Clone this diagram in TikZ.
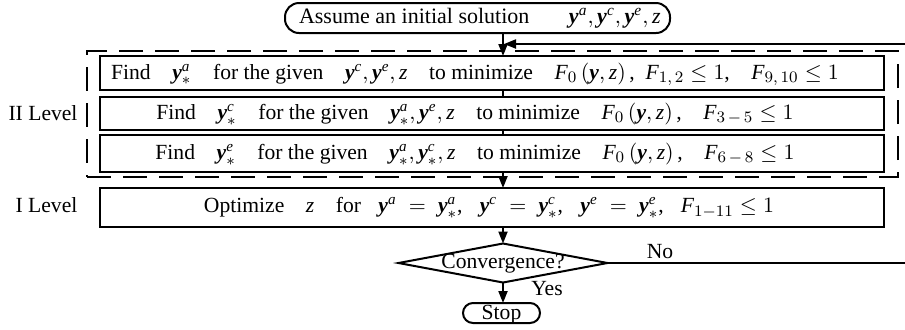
\documentclass[tikz,border=0pt]{standalone}
\usepackage{amsmath}
\usepackage{fontspec}
\setmainfont{Liberation Serif}
\usetikzlibrary{arrows.meta,shapes.geometric}
\newcommand{\vy}{\textbf{\textit{y}}}
\newcommand{\mi}[1]{\textit{#1}}
\begin{document}
\begin{tikzpicture}[x=0.5pt,y=-0.5pt,
  font=\fontsize{10.8}{13}\selectfont,
  every node/.style={inner sep=0pt, outer sep=0pt},
  stepbox/.style={draw, line width=1pt, minimum width=392pt},
  termbox/.style={draw, line width=1pt, rounded corners=7pt},
  conn/.style={line width=1pt},
  arr/.style={line width=1pt, -{Triangle[length=6pt,width=4.5pt]}},
  lbl/.style={anchor=center}]
\useasboundingbox (0,0) rectangle (905,329);

% terminals
\node[termbox, minimum width=192.5pt, minimum height=15pt] (start) at (477.5,18) {};
\node[anchor=west, font=\fontsize{11}{13}\selectfont] (starttxt) at (299,18) {Assume an initial solution\hspace{1.8em}$\vy^{\mi{a}},\vy^{\mi{c}},\vy^{\mi{e}},\mi{z}$};

% level II frame
\node[draw, line width=1pt, dash pattern=on 12pt off 6pt, minimum width=405.5pt, minimum height=63pt] (lvl2) at (492.5,114) {};

\node[stepbox, minimum height=17pt] (b1) at (492,73) {};
\node[stepbox, minimum height=16.5pt] (b2) at (492,113.5) {};
\node[stepbox, minimum height=18.5pt] (b3) at (492,153.5) {};
\node[stepbox, minimum height=19.5pt] (b4) at (491.5,207.5) {};

\node[lbl] (t1) at (475,74) {Find\quad $\vy^{\mi{a}}_{\ast}$\quad for the given\quad $\vy^{\mi{c}},\vy^{\mi{e}},\mi{z}$\quad to minimize\quad $\mi{F}_{0}\,(\vy,\mi{z})$\,,\ \ $\mi{F}_{1,\,2}\le 1$,\quad $\mi{F}_{9,\,10}\le 1$};
\node[lbl] (t2) at (475,114) {Find\quad $\vy^{\mi{c}}_{\ast}$\quad for the given\quad $\vy^{\mi{a}}_{\ast},\vy^{\mi{e}},\mi{z}$\quad to minimize\quad $\mi{F}_{0}\,(\vy,\mi{z})$\,,\quad $\mi{F}_{3\,-\,5}\le 1$};
\node[lbl] (t3) at (475,154) {Find\quad $\vy^{\mi{e}}_{\ast}$\quad for the given\quad $\vy^{\mi{a}}_{\ast},\vy^{\mi{c}}_{\ast},\mi{z}$\quad to minimize\quad $\mi{F}_{0}\,(\vy,\mi{z})$\,,\quad $\mi{F}_{6\,-\,8}\le 1$};
\node[lbl] (t4) at (489,208) {Optimize\quad $\mi{z}$\quad for\hspace{0.8em}$\vy^{\mi{a}}\;=\;\vy^{\mi{a}}_{\ast}$,\hspace{0.8em}$\vy^{\mi{c}}\;=\;\vy^{\mi{c}}_{\ast}$,\hspace{0.8em}$\vy^{\mi{e}}\;=\;\vy^{\mi{e}}_{\ast}$,\hspace{0.8em}$\mi{F}_{1-11}\le 1$};

\node[lbl] (l2) at (43,113) {II Level};
\node[lbl] (l1) at (46.5,205) {I Level};

% decision and stop
\node[draw, line width=1pt, shape=diamond, minimum width=104.5pt, minimum height=19.5pt] (conv) at (503,263) {};
\node[lbl] (convtxt) at (503,264) {Convergence?};
\node[termbox, rounded corners=5pt, minimum width=38.5pt, minimum height=10pt] (stop) at (501.5,313) {};
\node[lbl] (stoptxt) at (501.5,315) {Stop};

\node[lbl] (no) at (660,252) {No};
\node[lbl] (yes) at (547,289) {Yes};

% connectors
\coordinate (fb) at (504,44);
\coordinate (R) at (908,44);
\draw[arr] (start.south -| conv.north) -- (b1.north -| conv.north);
\draw[conn] (b1.south -| conv.north) -- (b2.north -| conv.north);
\draw[conn] (b2.south -| conv.north) -- (b3.north -| conv.north);
\draw[arr] (b3.south -| conv.north) -- (b4.north -| conv.north);
\draw[arr] (b4.south -| conv.north) -- (conv.north);
\draw[arr] (conv.south) -- (stop.north -| conv.south);
\draw[arr] (conv.east) -- (conv.east -| R) -- (R) -- (fb);
\end{tikzpicture}
\end{document}
